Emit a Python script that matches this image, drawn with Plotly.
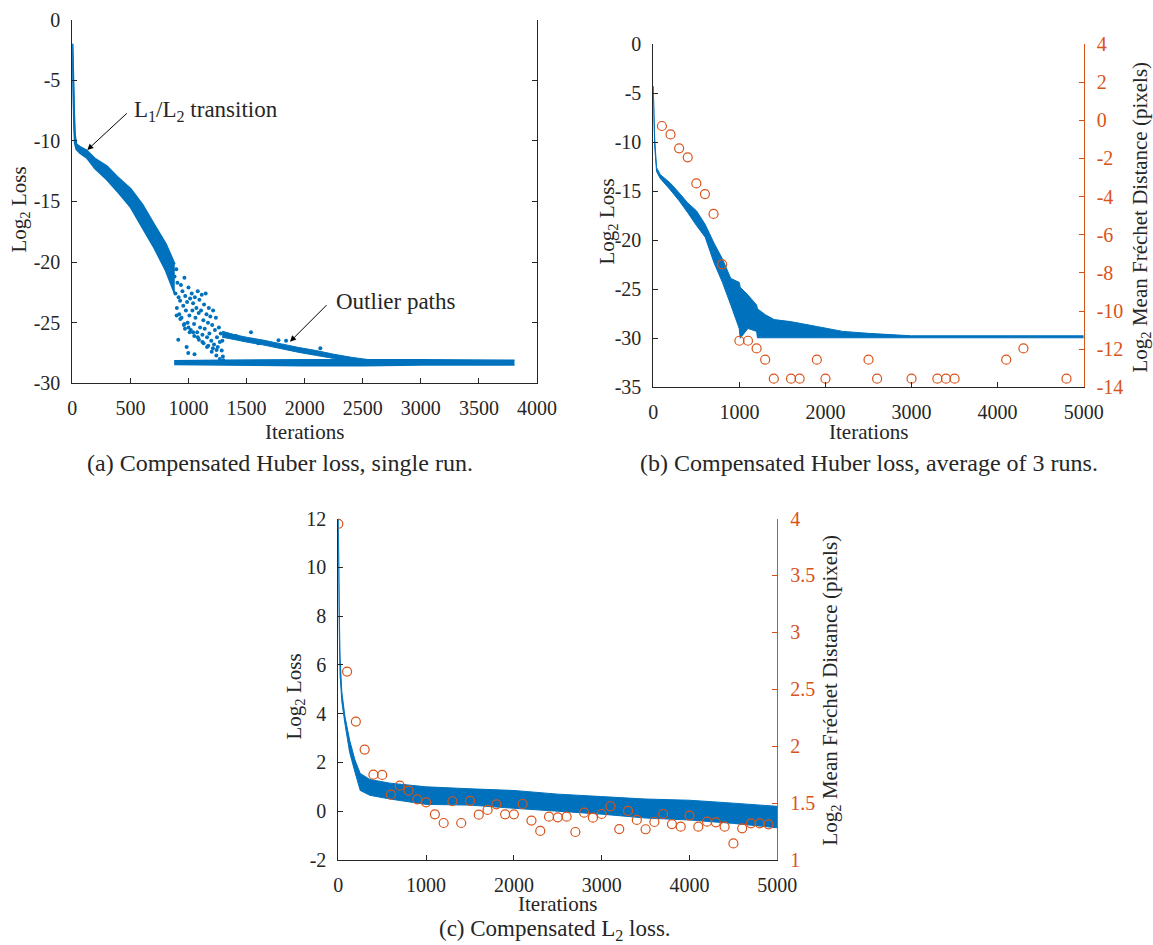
import plotly.graph_objects as go

W, H = 1153, 945
BLUE = '#0072BD'
ORANGE = '#D95319'
AXC = '#262626'
FONT = 'Liberation Serif'

# ---------------- (a) Compensated Huber loss, single run ----------------
a_band_x = [0, 5, 10, 15, 22, 35, 66, 124, 197, 298, 400, 504, 606, 704, 805, 882]
a_band_hi = [-2.0, -3.5, -5.5, -7.5, -9.5, -10.3, -10.5, -10.8, -11.5, -12.1, -13.1, -14.0, -15.3, -16.9, -18.5, -20.2]
a_band_lo = [-2.0, -4.5, -6.5, -8.5, -10.2, -10.7, -11.0, -11.4, -12.3, -13.2, -14.3, -15.5, -17.2, -18.8, -20.7, -22.6]

a_floor_x = [877, 1300, 2000, 2500, 3000, 3806]
a_floor_hi = [-28.15, -28.1, -28.05, -28.05, -28.05, -28.1]
a_floor_lo = [-28.45, -28.5, -28.55, -28.55, -28.5, -28.5]

a_path_x = [1290, 1400, 1500, 1650, 1800, 1950, 2100, 2250, 2400, 2550]
a_path_hi = [-25.7, -26.0, -26.2, -26.45, -26.75, -27.05, -27.3, -27.6, -27.85, -28.05]
a_path_lo = [-26.2, -26.4, -26.6, -26.85, -27.15, -27.45, -27.7, -27.95, -28.2, -28.35]

a_pts_x = [880, 888, 895, 900, 905, 912, 915, 920, 928, 935, 940, 948, 955, 960, 965, 972, 978, 984, 988, 993,
           998, 1000, 1008, 1014, 1020, 1028, 1034, 1040, 1048, 1052, 1055, 1060, 1068, 1075, 1080, 1088, 1094,
           1100, 1108, 1114, 1120, 1128, 1134, 1140, 1148, 1155, 1160, 1168, 1175, 1180, 1188, 1196, 1204, 1212,
           1220, 1228, 1236, 1245, 1252, 1262, 1270, 1278, 1286, 1292, 1296, 1300,
           898, 930, 965, 1000, 1040, 1080, 1120, 1160, 1200, 1240, 1270,
           970, 1010, 1050, 1090, 1130, 1170, 1210, 1242,
           1538, 1775, 1840, 2135, 1410, 1600]
a_pts_y = [-21.2, -22.6, -20.6, -23.8, -21.7, -26.4, -22.9, -24.3, -23.2, -21.9, -24.6, -22.4, -23.6, -25.2, -21.3,
           -22.8, -24.0, -27.0, -23.3, -25.0, -27.5, -22.1, -24.4, -23.0, -25.6, -22.6, -24.0, -23.4, -25.1, -27.6,
           -22.9, -24.6, -23.8, -25.8, -22.4, -24.2, -23.1, -25.4, -24.0, -22.7, -26.0, -24.8, -23.5, -25.5, -22.6,
           -24.3, -26.2, -25.0, -23.8, -25.9, -24.5, -26.5, -25.2, -24.0, -26.8, -25.6, -24.6, -26.2, -27.0, -25.4,
           -26.6, -25.9, -27.3, -26.5, -27.8, -28.1,
           -24.4, -24.7, -25.1, -25.4, -25.8, -26.2, -26.6, -27.0, -27.4, -27.7, -28.0,
           -25.5, -25.8, -26.1, -26.4, -26.7, -26.9, -27.1, -27.25,
           -25.8, -26.45, -26.5, -27.1, -26.1, -26.7]

a_xticks = [0, 500, 1000, 1500, 2000, 2500, 3000, 3500, 4000]
a_yticks = [0, -5, -10, -15, -20, -25, -30]
a_ytext = ['0', '-5', '-10', '-15', '-20', '-25', '-30']

# ---------------- (b) Compensated Huber loss, average of 3 runs ----------------
b_band_x = [0, 8, 17, 38, 80, 200, 302, 400, 501, 603, 705, 803, 900, 998, 1010, 1100, 1200, 1210,
            1302, 1404, 1594, 1900, 2200, 2500, 3000, 5000]
b_band_hi = [-4.3, -7.5, -9.8, -12.6, -13.3, -14.2, -15.2, -16.2, -17.0, -18.4, -20.3, -21.9, -23.9, -24.3, -24.8,
             -25.6, -26.6, -27.0, -27.6, -28.1, -28.3, -28.8, -29.3, -29.5, -29.75, -29.75]
b_band_lo = [-4.3, -8.0, -10.5, -13.0, -13.7, -14.9, -16.0, -17.2, -18.5, -19.7, -22.3, -24.3, -26.6, -29.0, -30.0,
             -29.0, -29.3, -29.95, -29.95, -29.95, -29.95, -29.95, -29.95, -29.95, -29.95, -29.95]

b_fd_x = [100, 200, 300, 400, 500, 600, 700, 800, 1000, 1100, 1200, 1300, 1400, 1600, 1700, 1900, 2000,
          2500, 2600, 3000, 3300, 3400, 3500, 4100, 4300, 4800]
b_fd_y = [-0.30, -0.74, -1.47, -1.94, -3.31, -3.87, -4.91, -7.55, -11.56, -11.56, -11.96, -12.55, -13.55,
          -13.55, -13.55, -12.55, -13.55, -12.55, -13.55, -13.55, -13.55, -13.55, -13.55, -12.55, -11.96, -13.55]

b_xticks = [0, 1000, 2000, 3000, 4000, 5000]
b_yticks = [0, -5, -10, -15, -20, -25, -30, -35]
b_ytext = ['0', '-5', '-10', '-15', '-20', '-25', '-30', '-35']
b_y2ticks = [4, 2, 0, -2, -4, -6, -8, -10, -12, -14]
b_y2text = ['4', '2', '0', '-2', '-4', '-6', '-8', '-10', '-12', '-14']

# ---------------- (c) Compensated L2 loss ----------------
c_band_x = [0, 5, 10, 20, 40, 75, 130, 190, 250, 360, 590, 1000, 1500, 2000, 2500, 3000, 3500, 4000, 4500, 5000]
c_band_hi = [12.0, 10.5, 8.5, 6.3, 4.9, 3.9, 2.9, 2.1, 1.55, 1.3, 1.15, 1.0, 0.92, 0.85, 0.7, 0.6, 0.5, 0.45, 0.33, 0.2]
c_band_lo = [12.0, 9.5, 7.5, 5.6, 4.5, 3.6, 2.4, 1.6, 0.85, 0.65, 0.5, 0.28, 0.25, 0.12, 0.0, -0.12, -0.28, -0.36, -0.5, -0.68]

c_fd_x = list(range(0, 5000, 100))
c_fd_y = [3.953, 2.655, 2.216, 1.97, 1.75, 1.747, 1.574, 1.653, 1.609, 1.533,
          1.507, 1.401, 1.325, 1.516, 1.325, 1.52, 1.398, 1.44, 1.489, 1.401,
          1.401, 1.492, 1.346, 1.255, 1.381, 1.375, 1.381, 1.246, 1.416, 1.372,
          1.404, 1.472, 1.272, 1.431, 1.352, 1.27, 1.334, 1.404, 1.316, 1.293,
          1.39, 1.293, 1.337, 1.331, 1.293, 1.146, 1.278, 1.322, 1.322, 1.313]

c_xticks = [0, 1000, 2000, 3000, 4000, 5000]
c_yticks = [-2, 0, 2, 4, 6, 8, 10, 12]
c_ytext = ['-2', '0', '2', '4', '6', '8', '10', '12']
c_y2ticks = [1, 1.5, 2, 2.5, 3, 3.5, 4]
c_y2text = ['1', '1.5', '2', '2.5', '3', '3.5', '4']


def px_x(p):
    return p / W


def px_y(p):
    return 1 - p / H


def band(fig, x, hi, lo, xa, ya, lw=1):
    fig.add_trace(go.Scatter(x=x, y=lo, mode='lines', line=dict(color=BLUE, width=lw, simplify=False),
                             xaxis=xa, yaxis=ya, hoverinfo='skip', showlegend=False))
    fig.add_trace(go.Scatter(x=x, y=hi, mode='lines', line=dict(color=BLUE, width=lw, simplify=False),
                             fill='tonexty', fillcolor=BLUE,
                             xaxis=xa, yaxis=ya, hoverinfo='skip', showlegend=False))


def circles(x, y, xa, ya):
    return go.Scatter(x=x, y=y, mode='markers', xaxis=xa, yaxis=ya, showlegend=False,
                      marker=dict(symbol='circle-open', size=9, color=ORANGE,
                                  line=dict(color=ORANGE, width=1.2)))


fig = go.Figure()
# (a)
band(fig, a_band_x, a_band_hi, a_band_lo, 'x', 'y', lw=2)
band(fig, a_floor_x, a_floor_hi, a_floor_lo, 'x', 'y', lw=1.5)
band(fig, a_path_x, a_path_hi, a_path_lo, 'x', 'y', lw=1)
fig.add_trace(go.Scatter(x=a_pts_x, y=a_pts_y, mode='markers', xaxis='x', yaxis='y', showlegend=False,
                         marker=dict(size=4, color=BLUE)))
# (b)
band(fig, b_band_x, b_band_hi, b_band_lo, 'x2', 'y2')
fig.add_trace(circles(b_fd_x, b_fd_y, 'x2', 'y3'))
# (c)
band(fig, c_band_x, c_band_hi, c_band_lo, 'x3', 'y4')
fig.add_trace(circles(c_fd_x, c_fd_y, 'x3', 'y5'))

tickfont = dict(family=FONT, size=20, color=AXC)
otickfont = dict(family=FONT, size=20, color=ORANGE)


def xax(dom, rng, tv, anchor):
    return dict(domain=dom, range=rng, tickvals=tv, ticktext=[str(v) for v in tv], anchor=anchor,
                showline=True, linecolor=AXC, linewidth=1, ticks='inside', ticklen=5, tickcolor=AXC,
                showgrid=False, zeroline=False, tickfont=tickfont, ticklabelstandoff=7, mirror=False,
                automargin=False)


def yax(dom, rng, tv, tt, anchor, mirror=False):
    return dict(domain=dom, range=rng, tickvals=tv, ticktext=tt, anchor=anchor,
                showline=True, linecolor=AXC, linewidth=1, ticks='inside', ticklen=5, tickcolor=AXC,
                showgrid=False, zeroline=False, tickfont=tickfont, ticklabelstandoff=7, mirror=mirror,
                automargin=False)


def y2ax(rng, tv, tt, overlay, anchor):
    return dict(range=rng, tickvals=tv, ticktext=tt, overlaying=overlay, anchor=anchor, side='right',
                showline=True, linecolor=ORANGE, linewidth=1, ticks='inside', ticklen=5, tickcolor=ORANGE,
                showgrid=False, zeroline=False, tickfont=otickfont, ticklabelstandoff=8, automargin=False)


layout = dict(
    width=W, height=H, margin=dict(l=0, r=0, t=0, b=0, pad=0, autoexpand=False), autosize=False,
    paper_bgcolor='white', plot_bgcolor='white', showlegend=False,
    xaxis=xax([px_x(72.3), px_x(537.0)], [0, 4000], a_xticks, 'y'),
    yaxis=yax([px_y(383.3), px_y(19.5)], [-30, 0], a_yticks, a_ytext, 'x', mirror='ticks'),
    xaxis2=xax([px_x(653.3), px_x(1083.7)], [0, 5000], b_xticks, 'y2'),
    yaxis2=yax([px_y(387.3), px_y(44.0)], [-35, 0], b_yticks, b_ytext, 'x2'),
    yaxis3=y2ax([-14, 4], b_y2ticks, b_y2text, 'y2', 'x2'),
    xaxis3=xax([px_x(338.3), px_x(777.3)], [0, 5000], c_xticks, 'y4'),
    yaxis4=yax([px_y(860.0), px_y(518.5)], [-2, 12], c_yticks, c_ytext, 'x3'),
    yaxis5=y2ax([1, 4], c_y2ticks, c_y2text, 'y4', 'x3'),
)
fig.update_layout(**layout)


def label(text, xp, yp, size=21, angle=0, anchor='center'):
    return dict(text=text, x=px_x(xp), y=px_y(yp), xref='paper', yref='paper', showarrow=False,
                xanchor=anchor, yanchor='middle', textangle=angle,
                font=dict(family=FONT, size=size, color=AXC))


ann = [
    label('Log<sub>2</sub> Loss', 19.5, 210, angle=-90),
    label('Iterations', 304.6, 431.7),
    label('(a) Compensated Huber loss, single run.', 280, 463.3, size=24),
    label('Log<sub>2</sub> Loss', 607.5, 222, angle=-90),
    label('Log<sub>2</sub> Mean Fréchet Distance (pixels)', 1141, 217.5, angle=-90),
    label('Iterations', 868.5, 431.7),
    label('(b) Compensated Huber loss, average of 3 runs.', 869, 463.3, size=24),
    label('Log<sub>2</sub> Loss', 294.5, 697, angle=-90),
    label('Log<sub>2</sub> Mean Fréchet Distance (pixels)', 830, 690.5, angle=-90),
    label('Iterations', 557.8, 904),
    label('(c) Compensated L<sub>2</sub> loss.', 555, 930, size=23),
    label('L<sub>1</sub>/L<sub>2</sub> transition', 131.5, 111, size=23, anchor='left'),
    label('Outlier paths', 334, 301, size=23, anchor='left'),
    dict(text='', x=129, y=-10.76, xref='x', yref='y', ax=41, ay=-38, axref='pixel', ayref='pixel',
         showarrow=True, arrowhead=2, arrowsize=1.2, arrowwidth=1, arrowcolor='black'),
    dict(text='', x=1874, y=-26.57, xref='x', yref='y', ax=38, ay=-38, axref='pixel', ayref='pixel',
         showarrow=True, arrowhead=2, arrowsize=1.2, arrowwidth=1, arrowcolor='black'),
]
fig.update_layout(annotations=ann)

fig.write_html('out.html', post_script="document.body.style.margin='0';document.body.style.overflow='hidden';")
